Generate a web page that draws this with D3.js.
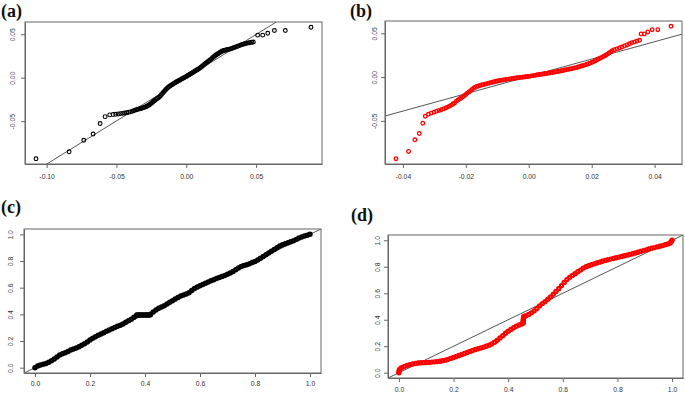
<!DOCTYPE html>
<html>
<head>
<meta charset="utf-8">
<script src="https://cdn.jsdelivr.net/npm/d3@7"></script>
<style>
  body { margin: 0; background: #fff; }
  svg { display: block; }
</style>
</head>
<body>
<svg id="chart" width="685" height="394"></svg>
<script>
// ---- data: [theoretical, sample] pairs ----
var pointsA = [
  [-0.1076,-0.0932],[-0.0839,-0.0852],[-0.0734,-0.0720],[-0.0667,-0.0648],[-0.0617,-0.0527],
  [-0.0581,-0.0448],[-0.0548,-0.0428],[-0.0524,-0.0424],[-0.0505,-0.0421],[-0.0487,-0.0417],
  [-0.0470,-0.0413],[-0.0455,-0.0410],[-0.0440,-0.0406],[-0.0425,-0.0402],[-0.0412,-0.0398],
  [-0.0400,-0.0393],[-0.0388,-0.0387],[-0.0377,-0.0380],[-0.0367,-0.0373],[-0.0357,-0.0368],
  [-0.0348,-0.0364],[-0.0339,-0.0360],[-0.0330,-0.0356],[-0.0322,-0.0352],[-0.0314,-0.0348],
  [-0.0306,-0.0344],[-0.0298,-0.0340],[-0.0290,-0.0335],[-0.0282,-0.0329],
  [-0.0275,-0.0323],[-0.0268,-0.0316],[-0.0261,-0.0308],[-0.0254,-0.0299],[-0.0247,-0.0290],
  [-0.0240,-0.0280],[-0.0233,-0.0271],[-0.0226,-0.0262],[-0.0219,-0.0253],[-0.0212,-0.0244],
  [-0.0205,-0.0236],[-0.0198,-0.0228],[-0.0191,-0.0219],[-0.0184,-0.0207],[-0.0177,-0.0194],
  [-0.0170,-0.0180],[-0.0163,-0.0167],[-0.0156,-0.0154],[-0.0149,-0.0142],[-0.0142,-0.0130],
  [-0.0135,-0.0119],[-0.0128,-0.0109],[-0.0121,-0.0100],[-0.0114,-0.0092],[-0.0107,-0.0085],
  [-0.0100,-0.0078],[-0.0093,-0.0071],[-0.0086,-0.0064],[-0.0079,-0.0057],[-0.0072,-0.0050],
  [-0.0065,-0.0044],[-0.0058,-0.0038],[-0.0051,-0.0032],[-0.0044,-0.0025],[-0.0037,-0.0019],
  [-0.0030,-0.0012],[-0.0023,-0.0006],[-0.0016,0.0000],[-0.0009,0.0006],[-0.0002,0.0012],
  [0.0005,0.0018],[0.0012,0.0025],[0.0019,0.0032],[0.0026,0.0039],[0.0033,0.0046],
  [0.0040,0.0053],[0.0047,0.0060],[0.0054,0.0067],[0.0061,0.0074],[0.0068,0.0081],
  [0.0075,0.0088],[0.0082,0.0095],[0.0089,0.0102],[0.0096,0.0110],[0.0103,0.0118],
  [0.0110,0.0127],[0.0117,0.0136],[0.0124,0.0145],[0.0131,0.0154],[0.0138,0.0163],
  [0.0145,0.0172],[0.0152,0.0181],[0.0159,0.0190],[0.0166,0.0199],[0.0173,0.0208],
  [0.0180,0.0217],[0.0187,0.0227],[0.0194,0.0237],[0.0201,0.0246],[0.0208,0.0255],
  [0.0215,0.0264],[0.0222,0.0271],[0.0229,0.0278],[0.0236,0.0285],[0.0243,0.0292],
  [0.0250,0.0299],[0.0257,0.0305],[0.0264,0.0310],[0.0271,0.0314],[0.0278,0.0317],
  [0.0285,0.0319],[0.0292,0.0321],
  [0.0300,0.0324],[0.0310,0.0328],[0.0320,0.0333],[0.0330,0.0339],[0.0340,0.0345],
  [0.0350,0.0351],[0.0360,0.0357],[0.0370,0.0363],[0.0380,0.0369],[0.0390,0.0375],
  [0.0400,0.0381],[0.0410,0.0386],[0.0420,0.0391],[0.0430,0.0395],[0.0440,0.0398],
  [0.0450,0.0401],[0.0460,0.0404],[0.0470,0.0407],[0.0480,0.0410],
  [0.0511,0.0489],[0.0547,0.0489],[0.0583,0.0511],[0.0631,0.0543],[0.0709,0.0543],[0.0893,0.0580]
];

var pointsB = [
  [-0.0422,-0.0932],[-0.0382,-0.0849],[-0.0362,-0.0716],[-0.0348,-0.0644],[-0.0337,-0.0527],
  [-0.0329,-0.0448],[-0.0319,-0.0425],[-0.0310,-0.0412],[-0.0301,-0.0400],[-0.0293,-0.0390],
  [-0.0285,-0.0381],[-0.0278,-0.0372],[-0.0271,-0.0363],[-0.0264,-0.0353],[-0.0258,-0.0343],
  [-0.0252,-0.0332],[-0.0246,-0.0320],[-0.0241,-0.0308],[-0.0236,-0.0296],
  [-0.0230,-0.0274],[-0.0225,-0.0263],[-0.0220,-0.0251],[-0.0215,-0.0239],[-0.0210,-0.0226],
  [-0.0205,-0.0212],[-0.0200,-0.0198],[-0.0195,-0.0183],[-0.0190,-0.0169],[-0.0185,-0.0155],
  [-0.0180,-0.0140],[-0.0175,-0.0126],[-0.0170,-0.0116],[-0.0165,-0.0108],[-0.0160,-0.0102],
  [-0.0155,-0.0096],[-0.0150,-0.0090],[-0.0145,-0.0086],[-0.0140,-0.0081],[-0.0135,-0.0077],
  [-0.0130,-0.0072],[-0.0125,-0.0068],[-0.0120,-0.0063],[-0.0115,-0.0059],[-0.0110,-0.0054],
  [-0.0105,-0.0050],[-0.0100,-0.0045],[-0.0095,-0.0041],[-0.0090,-0.0038],[-0.0085,-0.0035],
  [-0.0080,-0.0032],[-0.0075,-0.0029],[-0.0070,-0.0026],[-0.0065,-0.0023],[-0.0060,-0.0020],
  [-0.0055,-0.0018],[-0.0050,-0.0015],[-0.0045,-0.0013],[-0.0040,-0.0011],[-0.0035,-0.0008],
  [-0.0030,-0.0006],[-0.0025,-0.0003],[-0.0020,-0.0001],[-0.0015,0.0001],[-0.0010,0.0004],
  [-0.0005,0.0006],[0.0000,0.0008],[0.0005,0.0011],[0.0010,0.0014],[0.0015,0.0017],
  [0.0020,0.0020],[0.0025,0.0023],[0.0030,0.0026],[0.0035,0.0029],[0.0040,0.0032],
  [0.0045,0.0035],[0.0050,0.0038],[0.0055,0.0041],[0.0060,0.0044],[0.0065,0.0047],
  [0.0070,0.0050],[0.0075,0.0053],[0.0080,0.0056],[0.0085,0.0060],[0.0090,0.0063],
  [0.0095,0.0066],[0.0100,0.0070],[0.0105,0.0073],[0.0110,0.0077],[0.0115,0.0081],
  [0.0120,0.0085],[0.0125,0.0088],[0.0130,0.0092],[0.0135,0.0096],[0.0140,0.0100],
  [0.0145,0.0104],[0.0150,0.0108],[0.0155,0.0113],[0.0160,0.0118],[0.0165,0.0123],
  [0.0170,0.0129],[0.0175,0.0134],[0.0180,0.0140],[0.0185,0.0147],[0.0190,0.0153],
  [0.0195,0.0160],[0.0200,0.0166],[0.0205,0.0174],[0.0210,0.0183],[0.0215,0.0193],
  [0.0220,0.0203],[0.0225,0.0212],[0.0230,0.0222],[0.0235,0.0231],[0.0240,0.0240],
  [0.0245,0.0250],[0.0250,0.0262],[0.0255,0.0275],[0.0260,0.0288],[0.0265,0.0300],
  [0.0272,0.0312],[0.0280,0.0322],[0.0288,0.0333],[0.0296,0.0343],[0.0304,0.0355],
  [0.0312,0.0367],[0.0320,0.0380],[0.0328,0.0392],[0.0336,0.0402],[0.0344,0.0411],
  [0.0352,0.0420],
  [0.0357,0.0492],[0.0367,0.0492],[0.0378,0.0515],[0.0392,0.0541],[0.0410,0.0541],[0.0452,0.0580]
];

var pointsC = [
  [0.00,0.000],[0.01,0.012],[0.02,0.020],[0.03,0.026],[0.04,0.032],[0.05,0.040],[0.06,0.052],
  [0.07,0.065],[0.08,0.080],[0.09,0.095],[0.10,0.104],[0.11,0.112],[0.12,0.122],[0.13,0.132],
  [0.14,0.140],[0.15,0.148],[0.16,0.157],[0.17,0.168],[0.18,0.180],[0.19,0.193],[0.20,0.207],
  [0.21,0.220],[0.22,0.232],[0.23,0.243],[0.24,0.253],[0.25,0.262],[0.26,0.273],[0.27,0.283],
  [0.28,0.292],[0.29,0.302],[0.30,0.311],[0.31,0.319],[0.32,0.328],[0.33,0.340],[0.34,0.352],
  [0.35,0.364],[0.36,0.378],[0.37,0.395],[0.375,0.395],[0.38,0.395],[0.385,0.395],[0.39,0.395],
  [0.395,0.395],[0.40,0.395],[0.405,0.395],[0.41,0.395],[0.415,0.395],[0.42,0.396],
  [0.43,0.418],[0.44,0.432],[0.45,0.445],[0.46,0.455],[0.47,0.465],[0.48,0.478],[0.49,0.490],
  [0.50,0.502],[0.51,0.515],[0.52,0.527],[0.53,0.537],[0.54,0.545],[0.55,0.552],[0.56,0.562],
  [0.57,0.578],[0.58,0.594],[0.59,0.605],[0.60,0.614],[0.61,0.624],[0.62,0.633],[0.63,0.643],
  [0.64,0.652],[0.65,0.660],[0.66,0.668],[0.67,0.676],[0.68,0.684],[0.69,0.692],[0.70,0.700],
  [0.71,0.710],[0.72,0.722],[0.73,0.735],[0.74,0.748],[0.75,0.758],[0.76,0.766],[0.77,0.772],
  [0.78,0.780],[0.79,0.788],[0.80,0.797],[0.81,0.808],[0.82,0.820],[0.83,0.833],[0.84,0.847],
  [0.85,0.860],[0.86,0.873],[0.87,0.887],[0.88,0.900],[0.89,0.912],[0.90,0.922],[0.91,0.930],
  [0.92,0.937],[0.93,0.944],[0.94,0.952],[0.95,0.962],[0.96,0.972],[0.97,0.980],[0.98,0.987],
  [0.99,0.994],[1.00,1.000]
];

var pointsD = [
  [0.000,0.000],[0.000,0.010],[0.002,0.020],[0.004,0.028],[0.01,0.037],[0.02,0.047],[0.03,0.055],
  [0.04,0.061],[0.05,0.066],[0.06,0.070],[0.07,0.073],[0.08,0.075],[0.09,0.076],[0.10,0.077],
  [0.11,0.078],[0.12,0.080],[0.13,0.082],[0.14,0.084],[0.15,0.086],[0.16,0.090],[0.17,0.095],
  [0.18,0.101],[0.19,0.108],[0.20,0.115],[0.21,0.122],[0.22,0.130],[0.23,0.137],[0.24,0.145],
  [0.25,0.153],[0.26,0.161],[0.27,0.168],[0.28,0.175],[0.29,0.181],[0.30,0.187],[0.31,0.193],
  [0.32,0.200],[0.33,0.208],[0.34,0.217],[0.35,0.230],[0.36,0.245],[0.37,0.262],[0.38,0.280],
  [0.39,0.298],[0.40,0.313],[0.41,0.326],[0.42,0.340],[0.43,0.351],[0.44,0.360],[0.45,0.368],
  [0.455,0.375],[0.455,0.385],[0.455,0.395],[0.456,0.405],[0.456,0.415],[0.457,0.425],
  [0.465,0.430],[0.475,0.440],[0.485,0.452],[0.495,0.467],[0.505,0.485],[0.515,0.505],
  [0.525,0.522],[0.535,0.537],[0.545,0.555],[0.555,0.572],[0.565,0.592],[0.575,0.613],
  [0.585,0.635],[0.595,0.658],[0.605,0.682],[0.615,0.703],[0.625,0.720],[0.635,0.735],
  [0.645,0.748],[0.655,0.762],[0.665,0.775],[0.675,0.790],[0.685,0.800],[0.695,0.808],
  [0.705,0.815],[0.715,0.822],[0.725,0.828],[0.735,0.835],[0.745,0.842],[0.755,0.848],
  [0.765,0.853],[0.775,0.858],[0.785,0.863],[0.795,0.868],[0.805,0.873],[0.815,0.878],
  [0.825,0.883],[0.835,0.888],[0.845,0.893],[0.855,0.898],[0.865,0.904],[0.875,0.910],
  [0.885,0.916],[0.895,0.922],[0.905,0.928],[0.915,0.934],[0.925,0.940],[0.935,0.945],
  [0.945,0.950],[0.955,0.955],[0.965,0.960],[0.975,0.966],[0.985,0.972],[0.993,0.980],
  [0.997,0.990],[1.000,1.000]
];

// reference lines: [intercept, slope]
var lineA = [0.0000, 0.994];
var lineB = [0.0008, 0.990];
var lineC = [0, 1];
var lineD = [0, 1];

var ticksAx = [-0.10, -0.05, 0.00, 0.05];
var ticksAy = [-0.05, 0.00, 0.05];
var ticksBx = [-0.04, -0.02, 0.00, 0.02, 0.04];
var ticksBy = [-0.05, 0.00, 0.05];
var ticksUnit = [0, 0.2, 0.4, 0.6, 0.8, 1.0];

var labels = ["(a)", "(b)", "(c)", "(d)"];

var svg = d3.select("#chart");

// R style extendrange: 4% on each side
function extend(vals) {
  var ext = d3.extent(vals);
  var pad = (ext[1] - ext[0]) * 0.04;
  return [ext[0] - pad, ext[1] + pad];
}

function drawPanel(cfg) {
  var g = svg.append("g");
  var x = d3.scaleLinear().domain(extend(cfg.points.map(d => d[0]))).range([cfg.left, cfg.right]);
  var y = d3.scaleLinear().domain(extend(cfg.points.map(d => d[1]))).range([cfg.bottom, cfg.top]);

  svg.append("clipPath").attr("id", "clip" + cfg.id)
    .append("rect")
    .attr("x", cfg.left).attr("y", cfg.top)
    .attr("width", cfg.right - cfg.left).attr("height", cfg.bottom - cfg.top);

  // abline across the plot region
  var xd = x.domain();
  g.append("line")
    .attr("clip-path", "url(#clip" + cfg.id + ")")
    .attr("x1", x(xd[0])).attr("y1", y(cfg.line[0] + cfg.line[1] * xd[0]))
    .attr("x2", x(xd[1])).attr("y2", y(cfg.line[0] + cfg.line[1] * xd[1]))
    .attr("stroke", "#555").attr("stroke-width", 1);

  g.append("g")
    .selectAll("circle")
    .data(cfg.points)
    .join("circle")
    .attr("cx", d => x(d[0]))
    .attr("cy", d => y(d[1]))
    .attr("r", cfg.r)
    .attr("fill", "none")
    .attr("stroke", cfg.color)
    .attr("stroke-width", cfg.sw);

  // box
  g.append("rect")
    .attr("x", cfg.left).attr("y", cfg.top)
    .attr("width", cfg.right - cfg.left).attr("height", cfg.bottom - cfg.top)
    .attr("fill", "none").attr("stroke", "#666").attr("stroke-width", 1);

  var xAxis = g.append("g")
    .attr("transform", "translate(0," + cfg.bottom + ")")
    .call(d3.axisBottom(x).tickValues(cfg.xTicks).tickFormat(cfg.fmt)
      .tickSize(4).tickSizeOuter(0).tickPadding(cfg.xPad));

  var yAxis = g.append("g")
    .attr("transform", "translate(" + cfg.left + ",0)")
    .call(d3.axisLeft(y).tickValues(cfg.yTicks).tickFormat(cfg.fmt)
      .tickSize(4).tickSizeOuter(0));

  [xAxis, yAxis].forEach(function (ax) {
    ax.select(".domain").attr("stroke", "#666");
    ax.selectAll(".tick line").attr("stroke", "#666");
    ax.selectAll(".tick text")
      .attr("fill", "#333")
      .style("font-family", "'Liberation Sans', Arial, sans-serif")
      .style("font-size", "6.8px");
  });

  yAxis.selectAll(".tick text")
    .attr("transform", "rotate(-90)")
    .attr("x", 0)
    .attr("y", -cfg.yPad)
    .attr("dy", 0)
    .attr("text-anchor", "middle");

  svg.append("text")
    .attr("x", cfg.labX).attr("y", cfg.labY)
    .text(cfg.label)
    .style("font-family", "'Liberation Serif', 'Times New Roman', serif")
    .style("font-weight", "bold")
    .style("font-size", "18px")
    .attr("fill", "#111");
}

var fmt2 = d => d.toFixed(2);
var fmt1 = d => d.toFixed(1);

drawPanel({ id: "a", points: pointsA, line: lineA, xTicks: ticksAx, yTicks: ticksAy, fmt: fmt2,
  left: 25, right: 322, top: 22, bottom: 164, color: "#000", r: 1.9, sw: 1.1,
  xPad: 6, yPad: 10, label: labels[0], labX: 1, labY: 17 });
drawPanel({ id: "b", points: pointsB, line: lineB, xTicks: ticksBx, yTicks: ticksBy, fmt: fmt2,
  left: 385, right: 682, top: 21, bottom: 164, color: "#f00", r: 1.8, sw: 1.3,
  xPad: 6, yPad: 8.5, label: labels[1], labX: 350, labY: 17 });
drawPanel({ id: "c", points: pointsC, line: lineC, xTicks: ticksUnit, yTicks: ticksUnit, fmt: fmt1,
  left: 24, right: 321, top: 229, bottom: 373, color: "#000", r: 1.5, sw: 2.5,
  xPad: 4.5, yPad: 11, label: labels[2], labX: 1, labY: 213 });
drawPanel({ id: "d", points: pointsD, line: lineD, xTicks: ticksUnit, yTicks: ticksUnit, fmt: fmt1,
  left: 388, right: 683, top: 235, bottom: 378, color: "#f00", r: 1.6, sw: 2.2,
  xPad: 5.5, yPad: 8, label: labels[3], labX: 351, labY: 221 });
</script>
</body>
</html>
